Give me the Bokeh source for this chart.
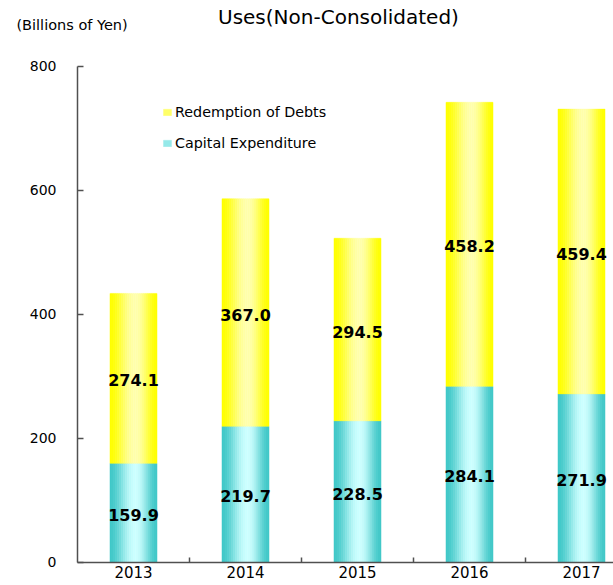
import math
from bokeh.plotting import figure
from bokeh.models import (ColumnDataSource, Range1d, FixedTicker, Label, LabelSet,
                          Legend, LegendItem)
from bokeh.core.properties import value
from bokeh.embed import file_html
from bokeh.resources import INLINE

# ---- data ----
years = ["2013", "2014", "2015", "2016", "2017"]
capex = [159.9, 219.7, 228.5, 284.1, 271.9]
redemption = [274.1, 367.0, 294.5, 458.2, 459.4]
y_ticks = [0, 200, 400, 600, 800]

title_text = "Uses(Non-Consolidated)"
unit_text = "(Billions of Yen)"
series_names = ["Redemption of Debts", "Capital Expenditure"]

FONT = "DejaVu Sans"
AXIS_COLOR = "#505050"
BAR_W = 0.42
N_STRIPS = 24

# view window (data space) so that the frame covers the whole canvas
X0, X1 = -1.1875, 4.2857
Y0, Y1 = -37.1, 906.45


def gradient(edge, center, n, peak=0.55):
    cols = []
    for i in range(n):
        t = (i + 0.5) / n
        d = (peak - t) / peak if t < peak else (t - peak) / (1 - peak)
        f = 0.5 * (1 + math.cos(math.pi * min(d, 1.0)))
        rgb = [int(round(e + f * (c - e))) for e, c in zip(edge, center)]
        cols.append("#%02x%02x%02x" % tuple(rgb))
    return cols


cyan_cols = gradient((0x40, 0xC8, 0xC8), (0xCC, 0xFF, 0xFF), N_STRIPS)
yellow_cols = gradient((0xFF, 0xFF, 0x00), (0xFF, 0xFF, 0xAC), N_STRIPS)


def strip_source(bottoms, tops, cols):
    xs, ws, bs, ts, cs = [], [], [], [], []
    sw = BAR_W / N_STRIPS
    for j in range(len(years)):
        for i in range(N_STRIPS):
            xs.append(j - BAR_W / 2 + (i + 0.5) * sw)
            ws.append(sw * 1.02)
            bs.append(bottoms[j])
            ts.append(tops[j])
            cs.append(cols[i])
    return ColumnDataSource(dict(x=xs, w=ws, bottom=bs, top=ts, color=cs))


totals = [c + r for c, r in zip(capex, redemption)]
zeros = [0] * len(years)

p = figure(width=613, height=585, min_border=0,
           x_range=Range1d(X0, X1), y_range=Range1d(Y0, Y1),
           output_backend="svg", toolbar_location=None, tools="")

src_cap = strip_source(zeros, capex, cyan_cols)
src_red = strip_source(capex, totals, yellow_cols)
r_cap = p.vbar(x="x", width="w", bottom="bottom", top="top", source=src_cap,
               fill_color="color", line_color="color", line_width=0.4)
r_red = p.vbar(x="x", width="w", bottom="bottom", top="top", source=src_red,
               fill_color="color", line_color="color", line_width=0.4)

# value labels
lab_src = ColumnDataSource(dict(
    x=list(range(len(years))) * 2,
    y=[c / 2 for c in capex] + [c + r / 2 for c, r in zip(capex, redemption)],
    text=["%.1f" % v for v in capex] + ["%.1f" % v for v in redemption],
))
p.add_layout(LabelSet(x="x", y="y", text="text", source=lab_src,
                      text_align="center", text_baseline="middle", y_offset=-2,
                      text_font=value(FONT), text_font_size=value("16px"),
                      text_font_style=value("bold"), text_color=value("black")))

# axes
p.xgrid.visible = False
p.ygrid.visible = False
p.outline_line_color = None
p.background_fill_color = "white"

xa = p.xaxis[0]
xa.fixed_location = 0
xa.bounds = (-0.5, X1)
xa.ticker = FixedTicker(ticks=list(range(len(years))),
                        minor_ticks=[i + 0.5 for i in range(len(years) - 1)])
xa.major_label_overrides = {i: y for i, y in enumerate(years)}
xa.major_tick_in = 0
xa.major_tick_out = 0
xa.minor_tick_in = 5
xa.minor_tick_out = 0
xa.minor_tick_line_color = AXIS_COLOR
xa.minor_tick_line_width = 1.5
xa.axis_line_color = AXIS_COLOR
xa.axis_line_width = 1.5
xa.major_label_standoff = 4
xa.major_label_text_font = FONT
xa.major_label_text_font_size = "15px"
xa.major_label_text_color = "black"

ya = p.yaxis[0]
ya.fixed_location = -0.5
ya.bounds = (0, 800)
ya.ticker = FixedTicker(ticks=y_ticks, minor_ticks=[])
ya.major_tick_in = 6
ya.major_tick_out = 0
ya.major_tick_line_color = AXIS_COLOR
ya.major_tick_line_width = 1.5
ya.minor_tick_line_color = None
ya.axis_line_color = AXIS_COLOR
ya.axis_line_width = 1.5
ya.major_label_standoff = 21
ya.major_label_text_font = FONT
ya.major_label_text_font_size = "14px"
ya.major_label_text_color = "black"

# legend
k = int(N_STRIPS * 0.3)
legend = Legend(items=[LegendItem(label=series_names[0], renderers=[r_red], index=k),
                       LegendItem(label=series_names[1], renderers=[r_cap], index=k)],
                location=(162, 434), orientation="vertical",
                glyph_width=10, glyph_height=8, label_standoff=3,
                label_height=14, spacing=15, padding=0, margin=0,
                border_line_color=None, background_fill_alpha=0,
                label_text_font=FONT, label_text_font_size="14.3px",
                label_text_color="black")
p.add_layout(legend)

# titles
p.add_layout(Label(x=1.83, y=880.5, text=title_text,
                   text_align="center", text_baseline="alphabetic",
                   text_font=FONT, text_font_size="20px", text_color="black"))
p.add_layout(Label(x=-1.045, y=867, text=unit_text,
                   text_align="left", text_baseline="alphabetic",
                   text_font=FONT, text_font_size="14.5px", text_color="black"))

open("out.html", "w").write(file_html(p, INLINE))
